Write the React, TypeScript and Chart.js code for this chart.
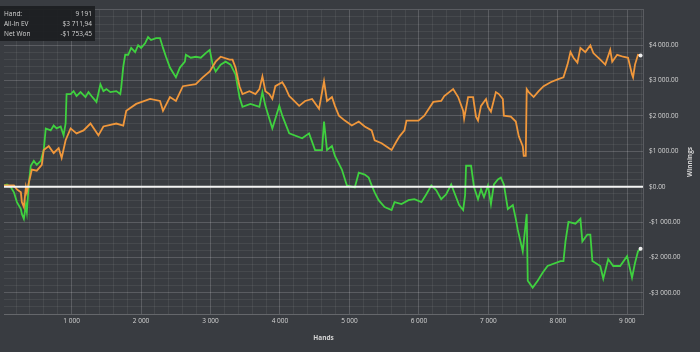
import React, { useEffect, useRef } from "react";
import { Chart, registerables } from "chart.js";
Chart.register(...registerables);

// ---- Data ----
const evHands = [0, 27, 127, 170, 213, 270, 284, 313, 342, 356, 385, 428, 499, 571, 599, 671, 742, 814, 857, 914, 986, 1071, 1172, 1272, 1386, 1458, 1644, 1744, 1787, 1930, 2130, 2273, 2316, 2416, 2502, 2602, 2788, 2888, 2989, 3074, 3146, 3275, 3317, 3360, 3417, 3460, 3560, 3647, 3704, 3747, 3790, 3847, 3890, 3933, 4033, 4076, 4133, 4176, 4276, 4362, 4462, 4562, 4634, 4677, 4748, 4791, 4848, 4934, 5034, 5134, 5220, 5320, 5363, 5463, 5564, 5607, 5678, 5721, 5792, 5821, 5993, 6078, 6207, 6321, 6365, 6493, 6565, 6637, 6651, 6708, 6780, 6822, 6851, 6894, 6966, 6994, 7037, 7108, 7151, 7208, 7223, 7323, 7395, 7438, 7495, 7509, 7538, 7552, 7581, 7652, 7724, 7795, 7896, 7996, 8081, 8139, 8182, 8225, 8282, 8325, 8396, 8468, 8511, 8611, 8683, 8754, 8783, 8854, 8940, 9011, 9068, 9083, 9111, 9154, 9191];
const evValues = [0, 36, 36, 36, -75, -158, -436, -575, -19, -158, 119, 486, 453, 620, 1036, 1147, 953, 1092, 814, 1314, 1648, 1509, 1592, 1787, 1453, 1703, 1787, 1731, 2147, 2342, 2481, 2425, 2147, 2536, 2425, 2842, 2897, 3092, 3258, 3536, 3675, 3592, 3592, 3369, 2842, 2620, 2703, 2620, 2759, 3120, 2703, 2620, 2481, 2842, 2953, 2814, 2564, 2481, 2286, 2425, 2481, 2203, 2981, 2425, 2536, 2286, 2009, 1870, 1731, 1842, 1703, 1592, 1314, 1231, 1092, 1036, 1286, 1425, 1592, 1870, 1870, 2009, 2397, 2425, 2564, 2759, 2536, 2147, 1925, 2536, 2536, 1981, 1870, 2286, 2481, 2259, 2120, 2675, 2620, 2481, 2009, 1981, 1842, 1425, 1147, 870, 870, 2759, 2675, 2536, 2703, 2842, 2953, 3036, 3092, 3453, 3806, 3647, 3508, 3925, 3806, 4000, 3778, 3592, 3453, 3870, 3536, 3731, 3675, 3647, 3175, 3092, 3453, 3731, 3711.94];

const wonHands = [0, 27, 70, 127, 170, 213, 270, 284, 313, 342, 356, 385, 413, 456, 499, 556, 599, 628, 699, 742, 785, 843, 885, 914, 928, 986, 1029, 1071, 1129, 1200, 1243, 1286, 1358, 1415, 1458, 1501, 1558, 1644, 1701, 1715, 1744, 1772, 1815, 1858, 1915, 1958, 2001, 2058, 2101, 2144, 2216, 2273, 2316, 2359, 2416, 2459, 2502, 2559, 2631, 2645, 2717, 2788, 2860, 2931, 2989, 3031, 3074, 3146, 3217, 3289, 3360, 3417, 3460, 3575, 3704, 3747, 3790, 3890, 3990, 4033, 4133, 4319, 4419, 4505, 4605, 4634, 4677, 4748, 4791, 4891, 4963, 5077, 5134, 5220, 5277, 5320, 5363, 5420, 5506, 5607, 5649, 5749, 5850, 5935, 6036, 6107, 6179, 6250, 6321, 6393, 6465, 6508, 6579, 6637, 6665, 6679, 6751, 6794, 6851, 6894, 6937, 6994, 7037, 7080, 7137, 7180, 7223, 7280, 7352, 7395, 7423, 7495, 7552, 7567, 7638, 7710, 7781, 7852, 8039, 8081, 8110, 8153, 8253, 8325, 8353, 8425, 8468, 8497, 8611, 8654, 8725, 8797, 8897, 8997, 9068, 9111, 9154, 9191];
const wonValues = [0, 36, 64, -19, -158, -436, -631, -769, -908, -519, -714, 119, 592, 731, 620, 731, 1036, 1648, 1592, 1731, 1648, 1703, 1453, 1787, 2620, 2620, 2703, 2564, 2675, 2536, 2675, 2564, 2397, 2897, 2703, 2759, 2675, 2703, 2620, 2814, 3397, 3731, 3731, 3925, 3806, 4000, 3925, 4056, 4231, 4147, 4203, 4203, 3925, 3675, 3369, 3231, 3092, 3369, 3536, 3731, 3647, 3675, 3647, 3778, 3870, 3453, 3258, 3453, 3536, 3453, 3175, 2536, 2259, 2342, 2259, 2675, 2286, 1648, 2286, 2009, 1509, 1370, 1509, 1036, 1036, 1842, 1036, 1147, 870, 486, 36, -19, 397, 342, 258, 36, -158, -381, -575, -658, -436, -492, -381, -353, -436, -214, 36, -103, -353, -214, 64, -158, -519, -658, -242, 592, 592, -19, -353, -75, -297, 36, -492, 64, 203, 258, 64, -631, -519, -908, -1214, -1825, -769, -2658, -2853, -2658, -2436, -2242, -2103, -2103, -1547, -992, -1047, -908, -1547, -1353, -1353, -2103, -2242, -2603, -2047, -2242, -2242, -1964, -2575, -2158, -1825, -1753.45];

const seriesNames = ["All-In EV", "Net Won"];
const seriesColors = ["#f0973b", "#3fd13f"];
const summaryLabels = ["Hand:", "All-In EV", "Net Won"];
const summaryValues = ["9 191", "$3 711,94", "-$1 753,45"];
const xLabelTicks = [1000, 2000, 3000, 4000, 5000, 6000, 7000, 8000, 9000];
const yLabelTicks = [4000, 3000, 2000, 1000, 0, -1000, -2000, -3000];
const xTitle = "Hands";
const yTitle = "Winnings";

const BG = "#393c41";
const MAJOR = "rgba(255,255,255,0.17)";
const MINOR = "rgba(255,255,255,0.065)";
const TXT = "#d4d4d4";
const FONT = "'Open Sans', 'Noto Sans', sans-serif";

const spaced = (n: number) => String(Math.abs(n)).replace(/\B(?=(\d{3})+(?!\d))/g, " ");
const money = (n: number) => (n < 0 ? "-$" : "$") + spaced(n) + ".00";

const range = (a: number, b: number, s: number) => {
  const out: number[] = [];
  for (let v = a; v <= b; v += s) out.push(v);
  return out;
};

export default function App() {
  const ref = useRef<HTMLCanvasElement | null>(null);
  useEffect(() => {
    document.body.style.margin = "0";
    const canvas = ref.current;
    if (!canvas) return;

    const overlay = {
      id: "overlay",
      afterDatasetsDraw(chart: any) {
        const { ctx, chartArea, scales } = chart;
        const y0 = scales.y.getPixelForValue(0);
        ctx.save();
        ctx.strokeStyle = "#f4f4f4";
        ctx.lineWidth = 2;
        ctx.beginPath();
        ctx.moveTo(chartArea.left, y0);
        ctx.lineTo(chartArea.right, y0);
        ctx.stroke();
        ctx.restore();
      },
      afterDraw(chart: any) {
        const { ctx, chartArea } = chart;
        ctx.save();
        ctx.fillStyle = TXT;
        ctx.font = `bold 6.5px ${FONT}`;
        ctx.textAlign = "center";
        ctx.textBaseline = "middle";
        ctx.fillText(xTitle, (chartArea.left + chartArea.right) / 2, 338);
        ctx.translate(690, (chartArea.top + chartArea.bottom) / 2);
        ctx.rotate(-Math.PI / 2);
        ctx.fillText(yTitle, 0, 0);
        ctx.restore();
      },
    };

    const mk = (hands: number[], vals: number[]) => hands.map((h, i) => ({ x: h, y: vals[i] }));

    const chart = new Chart(canvas, {
      type: "line",
      data: {
        datasets: [
          { label: seriesNames[0], data: mk(evHands, evValues), borderColor: seriesColors[0] },
          { label: seriesNames[1], data: mk(wonHands, wonValues), borderColor: seriesColors[1] },
        ].map((d) => ({
          ...d,
          borderWidth: 1.8,
          tension: 0,
          pointRadius: (c: any) => (c.dataIndex === c.dataset.data.length - 1 ? 2 : 0),
          pointBackgroundColor: "#eeeeee",
          pointBorderWidth: 0,
        })) as any,
      },
      options: {
        responsive: false,
        animation: false,
        layout: { padding: { top: 5, left: 0, right: 0, bottom: 0 } },
        plugins: { legend: { display: false }, tooltip: { enabled: false } },
        scales: {
          x: {
            type: "linear",
            min: 27,
            max: 9226,
            afterBuildTicks: (s: any) => {
              s.ticks = range(200, 9200, 200).map((v) => ({ value: v }));
            },
            afterFit: (s: any) => {
              s.height = 38;
            },
            ticks: {
              autoSkip: false,
              maxRotation: 0,
              padding: 3,
              color: TXT,
              font: { size: 6.5, family: FONT },
              callback: (v: any) => (xLabelTicks.includes(Number(v)) ? spaced(Number(v)) : ""),
            },
            grid: {
              drawTicks: false,
              color: (c: any) => (c.tick && c.tick.value % 1000 === 0 ? MAJOR : MINOR),
            },
            border: { display: true, color: MAJOR },
          },
          y: {
            type: "linear",
            position: "right",
            min: -3600,
            max: 5000,
            afterBuildTicks: (s: any) => {
              s.ticks = range(-3600, 5000, 200).map((v) => ({ value: v }));
            },
            afterFit: (s: any) => {
              s.width = 57;
            },
            ticks: {
              autoSkip: false,
              padding: 6,
              color: TXT,
              font: { size: 6.5, family: FONT },
              callback: (v: any) => (yLabelTicks.includes(Number(v)) ? money(Number(v)) : ""),
            },
            grid: {
              drawTicks: false,
              color: (c: any) => (c.tick && c.tick.value % 1000 === 0 ? MAJOR : MINOR),
            },
            border: { display: true, color: MAJOR },
          },
        },
      },
      plugins: [overlay],
    });
    return () => chart.destroy();
  }, []);

  return (
    <div style={{ position: "fixed", left: 0, top: 0, width: 700, height: 352, background: BG, overflow: "hidden" }}>
      <canvas ref={ref} width={700} height={352} style={{ display: "block" }} />
      <div
        style={{
          position: "absolute",
          left: 0,
          top: 6,
          width: 95,
          height: 35,
          boxSizing: "border-box",
          padding: "3px 3px 0 4px",
          background: "rgba(28,30,33,0.92)",
          color: TXT,
          fontFamily: FONT,
          fontSize: 6.5,
          lineHeight: "10px",
        }}
      >
        {summaryLabels.map((l, i) => (
          <div key={l} style={{ display: "flex", justifyContent: "space-between" }}>
            <span>{l}</span>
            <span>{summaryValues[i]}</span>
          </div>
        ))}
      </div>
    </div>
  );
}
